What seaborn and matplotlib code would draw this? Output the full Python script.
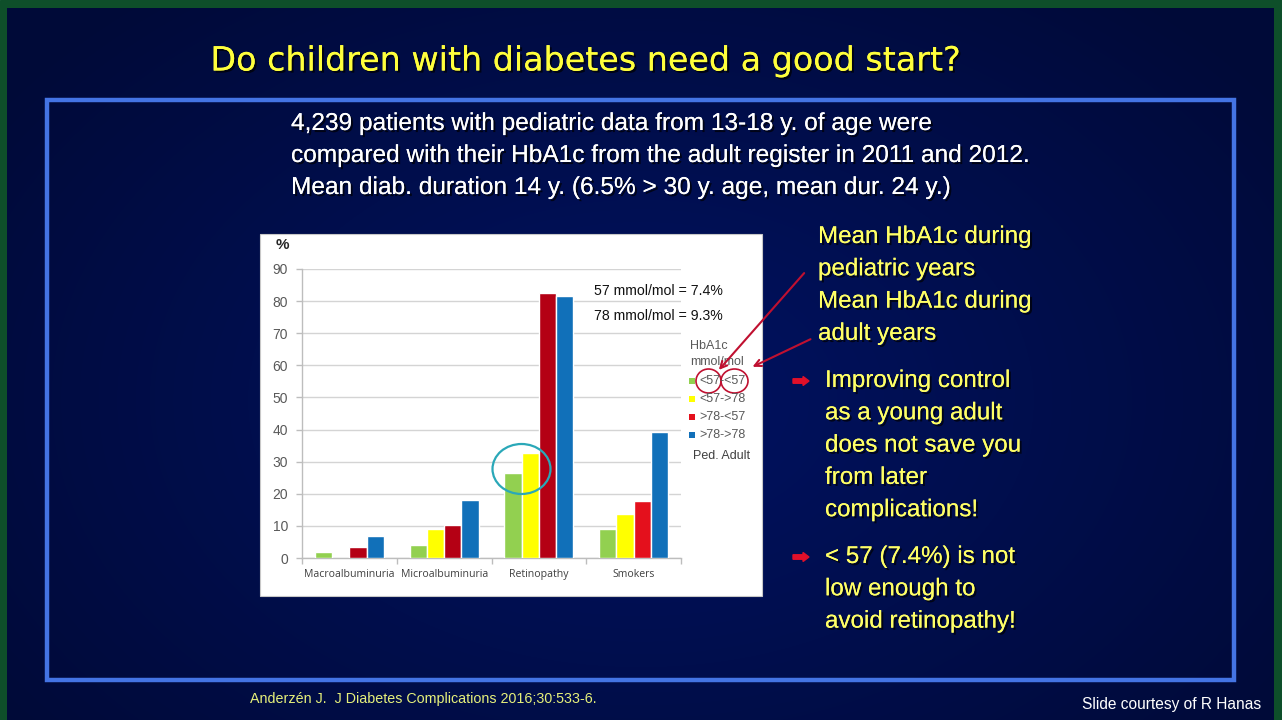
import numpy as np
import pandas as pd
import matplotlib
matplotlib.use("Agg")
import matplotlib.pyplot as plt
import seaborn as sns
from matplotlib.patches import Rectangle, Ellipse, FancyArrow
import matplotlib.patheffects as pe

# ---------------- data ----------------
categories = ["Macroalbuminuria", "Microalbuminuria", "Retinopathy", "Smokers"]
groups = ["<57-<57", "<57->78", ">78-<57", ">78->78"]
vals_lo_lo = [1.8, 3.9, 26.6, 9.1]
vals_lo_hi = [0.0, 9.1, 32.7, 13.7]
vals_hi_lo = [3.3, 10.4, 82.5, 17.7]
vals_hi_hi = [6.8, 18.1, 81.6, 39.1]
yticks = [0, 10, 20, 30, 40, 50, 60, 70, 80, 90]
palette = ["#92D050", "#FFFF00", "#B40014", "#1170B9"]

rows = []
for g, vals in zip(groups, [vals_lo_lo, vals_lo_hi, vals_hi_lo, vals_hi_hi]):
    for c, v in zip(categories, vals):
        rows.append({"category": c, "group": g, "value": v})
df = pd.DataFrame(rows)

sns.set_theme(style="white")
plt.rcParams["font.family"] = ["Liberation Sans", "DejaVu Sans"]

W, H = 1282, 720
fig = plt.figure(figsize=(12.82, 7.2), dpi=100)

# ---------------- background ----------------
bg = fig.add_axes([0, 0, 1, 1])
bg.add_patch(Rectangle((0, 0), W, H, color="#0E4F2A", zorder=0))
gh, gw = H - 8, 1274 - 7
yy, xx = np.mgrid[0:gh, 0:gw]
d = np.sqrt(((xx - gw * 0.5) / (gw * 0.62)) ** 2 + ((yy - gh * 0.55) / (gh * 0.75)) ** 2)
t = np.clip(d, 0, 1)[..., None]
c_in = np.array([0x00, 0x12, 0x62]) / 255.0
c_out = np.array([0x00, 0x0A, 0x38]) / 255.0
img = c_in * (1 - t) + c_out * t
bg.imshow(img, extent=(7, 1274, 720, 8), origin="upper", aspect="auto", zorder=1)
bg.set_xlim(0, W)
bg.set_ylim(H, 0)
bg.axis("off")
bg.add_patch(Rectangle((47, 100), 1234 - 47, 680 - 100, fill=False,
                       edgecolor="#4474E4", lw=3.2, zorder=2))
bg.add_patch(Rectangle((260, 234), 502, 362, facecolor="white",
                       edgecolor="#C8C8C8", lw=0.8, zorder=3))

# ---------------- chart ----------------
ax = fig.add_axes([302 / W, (H - 558) / H, (681 - 302) / W, (558 - 269) / H])
ax.set_facecolor("none")
sns.barplot(data=df, x="category", y="value", hue="group", order=categories,
            hue_order=groups, palette=palette, saturation=1, width=0.73,
            legend=False, ax=ax, zorder=3)
for p in ax.patches:
    cx = p.get_x() + p.get_width() / 2
    fc = p.get_facecolor()
    if cx > 2.5 and fc[0] > 0.6 and fc[1] < 0.2 and fc[2] < 0.2:
        p.set_facecolor("#E4101C")
ax.set_xlim(-0.5, 3.5)
ax.set_ylim(0, 90)
ax.set_yticks(yticks)
ax.yaxis.grid(True, color="#D4D4D4", lw=1.0, zorder=0)
ax.set_axisbelow(True)
ax.set_xlabel("")
ax.set_ylabel("")
for s in ["top", "right"]:
    ax.spines[s].set_visible(False)
for s in ["left", "bottom"]:
    ax.spines[s].set_color("#BDBDBD")
    ax.spines[s].set_linewidth(1.0)
ax.tick_params(axis="y", which="major", length=4, color="#BDBDBD", width=1,
               labelsize=10, labelcolor="#595959", pad=6, left=True)
ax.set_xticks([0.5, 1.5, 2.5, -0.5, 3.5], minor=True)
ax.tick_params(axis="x", which="major", length=0, labelsize=7.6,
               labelcolor="#404040", pad=14)
ax.tick_params(axis="x", which="minor", length=4, color="#BDBDBD", width=1, bottom=True)
for lab in ax.get_xticklabels():
    lab.set_family(["Open Sans", "DejaVu Sans"])
    lab.set_va("baseline")

# ---------------- overlay ----------------
fg = fig.add_axes([0, 0, 1, 1])
fg.set_zorder(10)
fg.patch.set_alpha(0)
fg.set_xlim(0, W)
fg.set_ylim(H, 0)
fg.axis("off")

shadow = [pe.withSimplePatchShadow(offset=(1.5, -1.5), shadow_rgbFace="black", alpha=0.7), pe.Normal()]

fg.text(586, 61, "Do children with diabetes need a good start?", color="#FFFF3C",
        fontsize=24, ha="center", va="center", family=["DejaVu Sans"], path_effects=shadow)

white_lines = ["4,239 patients with pediatric data from 13-18 y. of age were",
               "compared with their HbA1c from the adult register in 2011 and 2012.",
               "Mean diab. duration 14 y. (6.5% > 30 y. age, mean dur. 24 y.)"]
for i, s in enumerate(white_lines):
    fg.text(291, 124 + i * 32, s, color="white", fontsize=17.6, ha="left", va="center",
            path_effects=shadow)

yel = "#FFFF66"
fs_r = 17.4
right1 = ["Mean HbA1c during", "pediatric years", "Mean HbA1c during", "adult years"]
for i, s in enumerate(right1):
    fg.text(818, 237 + i * 32.3, s, color=yel, fontsize=fs_r, ha="left", va="center",
            path_effects=shadow)
b1 = ["Improving control", "as a young adult", "does not save you", "from later", "complications!"]
for i, s in enumerate(b1):
    fg.text(825, 381 + i * 32.3, s, color=yel, fontsize=fs_r, ha="left", va="center",
            path_effects=shadow)
b2 = ["< 57 (7.4%) is not", "low enough to", "avoid retinopathy!"]
for i, s in enumerate(b2):
    fg.text(825, 557 + i * 32.3, s, color=yel, fontsize=fs_r, ha="left", va="center",
            path_effects=shadow)
for yb in [381, 557]:
    fg.add_patch(FancyArrow(793, yb, 10, 0, width=4.5, head_width=9, head_length=6,
                            length_includes_head=False, color="#E0102A"))

fg.text(250, 699, "Anderzén J.  J Diabetes Complications 2016;30:533-6.", color="#E6F07A",
        fontsize=10.3, ha="left", va="center")
fg.text(1261, 704, "Slide courtesy of R Hanas", color="white", fontsize=11.2,
        ha="right", va="center")

# chart annotations
fg.text(282, 245, "%", color="#262626", fontsize=11, fontweight="bold", ha="center", va="center")
fg.text(594, 291, "57 mmol/mol = 7.4%", color="#111111", fontsize=10.2, ha="left", va="center")
fg.text(594, 316, "78 mmol/mol = 9.3%", color="#111111", fontsize=10.2, ha="left", va="center")

lg = "#595959"
fs_l = 9
fg.text(690, 346, "HbA1c", color=lg, fontsize=fs_l, ha="left", va="center")
fg.text(690, 362, "mmol/mol", color=lg, fontsize=fs_l, ha="left", va="center")
leg_y = [381, 399, 417, 435]
leg_cols = ["#92D050", "#FFFF00", "#E4101C", "#1170B9"]
for yv, col, g in zip(leg_y, leg_cols, groups):
    fg.add_patch(Rectangle((689, yv - 3), 5.5, 6, color=col, lw=0))
    fg.text(699, yv, g, color=lg, fontsize=fs_l, ha="left", va="center")
fg.text(693, 456, "Ped. Adult", color="#404040", fontsize=fs_l, ha="left", va="center")

red = "#C01030"
fg.add_patch(Ellipse((708.5, 381), 25, 24, fill=False, edgecolor=red, lw=1.2))
fg.add_patch(Ellipse((734.5, 381), 27, 24, fill=False, edgecolor=red, lw=1.2))
fg.add_patch(Ellipse((521.5, 469), 58, 50, fill=False, edgecolor="#2AA8B8", lw=1.6))
fg.annotate("", xy=(717, 372), xytext=(806, 271),
            arrowprops=dict(arrowstyle="->", color=red, lw=1.5, mutation_scale=12))
fg.annotate("", xy=(750, 368), xytext=(813, 338),
            arrowprops=dict(arrowstyle="->", color=red, lw=1.5, mutation_scale=12))

fig.savefig("out.png", dpi=100)
